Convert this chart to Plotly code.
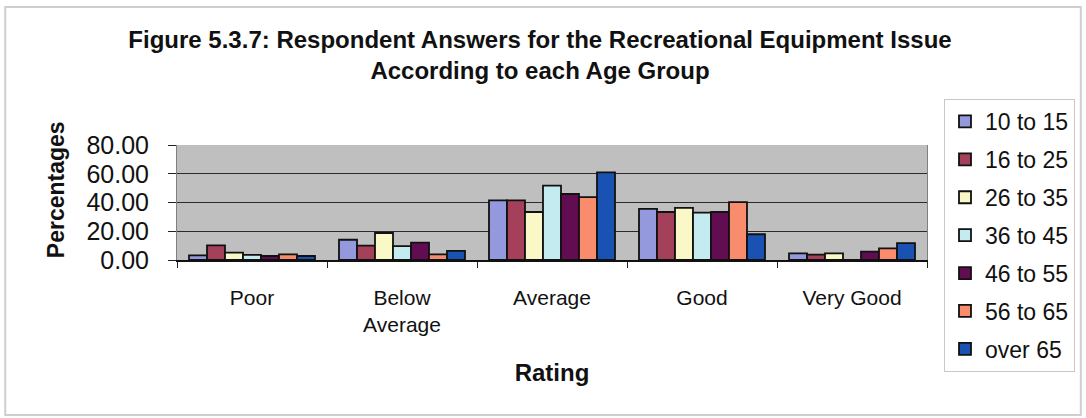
import plotly.graph_objects as go

# Ratings on the x axis
ratings = ["Poor", "Below<br>Average", "Average", "Good", "Very Good"]

# Age groups (one bar series each)
age_groups = ["10 to 15", "16 to 25", "26 to 35", "36 to 45",
              "46 to 55", "56 to 65", "over 65"]

# Percentage of respondents per rating, for each age group
pct_10_15 = [3.2, 14.1, 41.5, 35.5, 4.6]
pct_16_25 = [10.2, 10.0, 41.5, 33.4, 3.7]
pct_26_35 = [5.1, 18.8, 33.4, 36.2, 4.6]
pct_36_45 = [3.5, 9.7, 51.7, 32.9, 0.0]
pct_46_55 = [2.8, 12.1, 45.9, 33.4, 5.8]
pct_56_65 = [3.9, 3.9, 43.8, 40.3, 8.1]
pct_over_65 = [2.8, 6.3, 61.0, 17.9, 11.8]

series = [pct_10_15, pct_16_25, pct_26_35, pct_36_45,
          pct_46_55, pct_56_65, pct_over_65]

colors = ["#9498dc", "#a5405a", "#fbf8c8", "#c4ecf0",
          "#620d52", "#fa8c6e", "#1a52b4"]

FONT = "Liberation Sans, Arial, sans-serif"

fig = go.Figure()
for name, vals, col in zip(age_groups, series, colors):
    fig.add_trace(go.Bar(
        x=ratings, y=vals, name=name, legendgroup=name,
        marker=dict(color=col, line=dict(color="#111111", width=1.8)),
    ))

W, H = 1086, 418
L, R, T, B = 177, 158, 145, 158

fig.update_layout(
    width=W, height=H,
    margin=dict(l=L, r=R, t=T, b=B),
    paper_bgcolor="white",
    plot_bgcolor="#bfbfbf",
    barmode="group",
    bargap=0.16,
    bargroupgap=0.0,
    font=dict(family=FONT, color="#111111"),
    title=dict(
        text="<b>Figure 5.3.7: Respondent Answers for the Recreational Equipment Issue"
             "<br>According to each Age Group</b>",
        font=dict(size=24, family=FONT, color="#111111"),
        x=540 / W, xref="container", xanchor="center",
        y=1 - 48 / H, yref="container", yanchor="top",
    ),
    legend=dict(
        x=(944 - L) / (W - L - R), xanchor="left",
        y=1 + (T - 99) / (H - T - B), yanchor="top",
        bordercolor="#c8c8c8", borderwidth=1,
        bgcolor="white",
        font=dict(size=23, family=FONT, color="#111111"),
        itemwidth=30,
        tracegroupgap=5,
        maxheight=400,
    ),
    xaxis=dict(
        type="category",
        tickson="boundaries",
        ticks="outside", ticklen=6, tickcolor="#222222",
        tickfont=dict(size=21, family=FONT, color="#111111"),
        showline=True, linecolor="#111111", linewidth=1.5,
        showgrid=False,
        ticklabelstandoff=18,
        title=dict(text="<b>Rating</b>", font=dict(size=24, family=FONT, color="#111111"),
                   standoff=29),
    ),
    yaxis=dict(
        range=[0, 80], dtick=20, tickformat=".2f",
        ticks="outside", ticklen=8, tickcolor="#222222",
        tickfont=dict(size=25, family=FONT, color="#111111"),
        showgrid=True, gridcolor="#2a2a2a", gridwidth=1,
        showline=True, linecolor="#808080", linewidth=1, mirror=True,
        zeroline=False,
        ticklabelstandoff=14,
    ),
    annotations=[dict(
        text="<b>Percentages</b>", textangle=-90,
        font=dict(size=23, family=FONT, color="#111111"),
        xref="paper", yref="paper",
        x=(56 - L) / (W - L - R), y=(260 - 190) / (H - T - B),
        xanchor="center", yanchor="middle", showarrow=False,
    )],
    shapes=[dict(
        type="rect", xref="paper", yref="paper", layer="below",
        x0=(5 - L) / (W - L - R), x1=(1082 - L) / (W - L - R),
        y0=(260 - 415) / (H - T - B), y1=(260 - 7) / (H - T - B),
        line=dict(color="#cfcfcf", width=2),
    )],
)

fig.write_html("out.html")
